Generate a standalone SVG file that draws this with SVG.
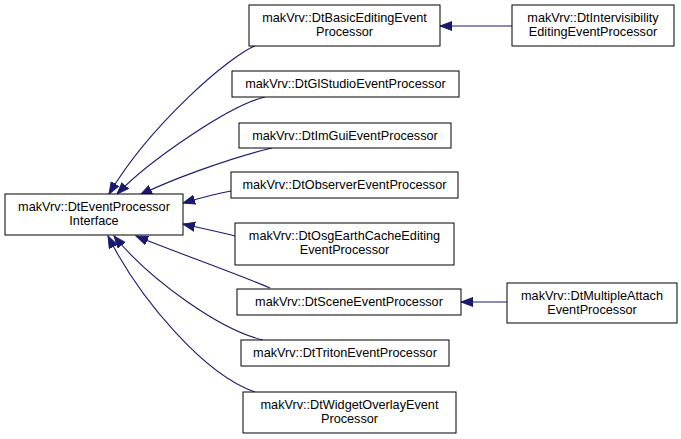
<svg xmlns="http://www.w3.org/2000/svg" width="681" height="439" viewBox="0 0 681 439">
<style>
.n{fill:#fff;stroke:#000;stroke-width:1}
text{font-family:"Liberation Sans",Arial,sans-serif;font-size:12.7px;fill:#000;text-anchor:middle}
.e{fill:none;stroke:#191970;stroke-width:1.1}
</style>
<defs>
<marker id="a" markerUnits="userSpaceOnUse" markerWidth="14" markerHeight="12" refX="12" refY="5" orient="auto">
<path d="M0,0.5 L12,5 L0,9.5 Z" fill="#191970" stroke="#191970"/>
</marker>
</defs>
<rect width="681" height="439" fill="#fff"/>
<g id="edges">
<path class="e" marker-end="url(#a)" d="M257,45 C230,55 150,125 109,194"/>
<path class="e" marker-end="url(#a)" d="M265,97 C230,105 150,160 117,194"/>
<path class="e" marker-end="url(#a)" d="M272,148 C230,158 170,180 140,195"/>
<path class="e" marker-end="url(#a)" d="M231,191 C215,194 200,198 183,203"/>
<path class="e" marker-end="url(#a)" d="M235,236 C220,232 200,228 183,224"/>
<path class="e" marker-end="url(#a)" d="M270,288 C240,275 170,250 136,236"/>
<path class="e" marker-end="url(#a)" d="M263,340 C220,330 150,280 114,236"/>
<path class="e" marker-end="url(#a)" d="M255,392 C205,375 140,300 108,236"/>
<path class="e" marker-end="url(#a)" d="M512,26 L440,26"/>
<path class="e" marker-end="url(#a)" d="M507,302 L461,302"/>
</g>
<g id="n0"><rect class="n" x="5" y="194" width="178" height="41"/><text x="94" y="211">makVrv::DtEventProcessor</text><text x="94" y="225">Interface</text></g>
<g id="n1"><rect class="n" x="249" y="5" width="191" height="41"/><text x="344.5" y="22">makVrv::DtBasicEditingEvent</text><text x="344.5" y="36">Processor</text></g>
<g id="n2"><rect class="n" x="512" y="5" width="162" height="41"/><text x="593" y="22">makVrv::DtIntervisibility</text><text x="593" y="36">EditingEventProcessor</text></g>
<g id="n3"><rect class="n" x="232" y="71" width="227" height="26"/><text x="345.5" y="88">makVrv::DtGlStudioEventProcessor</text></g>
<g id="n4"><rect class="n" x="239" y="123" width="212" height="25"/><text x="345" y="140">makVrv::DtImGuiEventProcessor</text></g>
<g id="n5"><rect class="n" x="231" y="172" width="227" height="26"/><text x="344.5" y="189">makVrv::DtObserverEventProcessor</text></g>
<g id="n6"><rect class="n" x="235" y="223" width="219" height="42"/><text x="344.5" y="240">makVrv::DtOsgEarthCacheEditing</text><text x="344.5" y="254">EventProcessor</text></g>
<g id="n7"><rect class="n" x="237" y="289" width="224" height="26"/><text x="349" y="306">makVrv::DtSceneEventProcessor</text></g>
<g id="n8"><rect class="n" x="507" y="283" width="170" height="40"/><text x="592" y="300">makVrv::DtMultipleAttach</text><text x="592" y="314">EventProcessor</text></g>
<g id="n9"><rect class="n" x="241" y="340" width="208" height="26"/><text x="345" y="357">makVrv::DtTritonEventProcessor</text></g>
<g id="n10"><rect class="n" x="243" y="392" width="213" height="41"/><text x="349.5" y="409">makVrv::DtWidgetOverlayEvent</text><text x="349.5" y="423">Processor</text></g>
</svg>
